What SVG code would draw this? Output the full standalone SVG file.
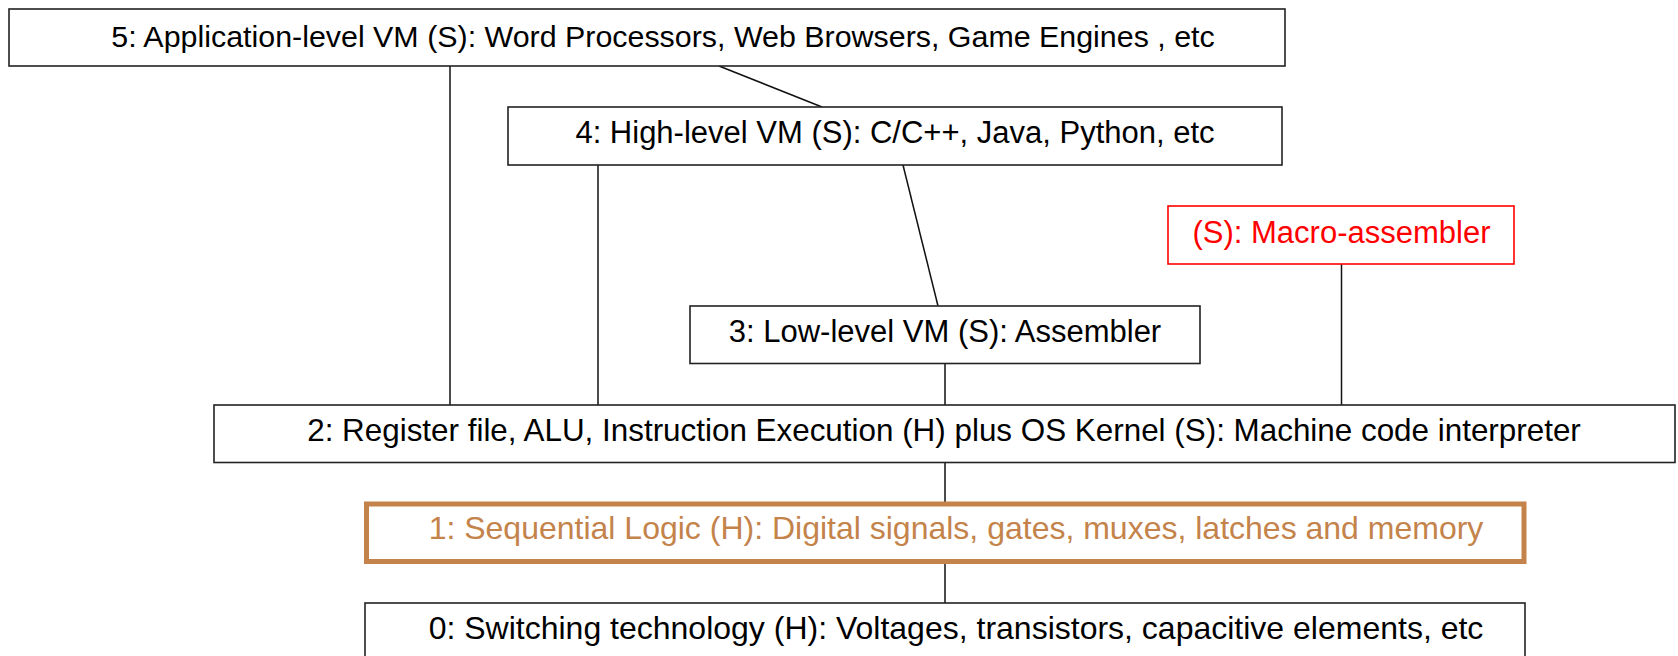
<svg xmlns="http://www.w3.org/2000/svg" width="1678" height="656" viewBox="0 0 1678 656">
<style>
.box{fill:#fff;stroke:#222;stroke-width:1.6}
.t{font-family:"Liberation Sans",Arial,sans-serif;font-size:31px;fill:#000;text-anchor:middle}
.red .box{stroke:#ff0000}
.red .t{fill:#ff0000}
.org .box{stroke:#c4834a;stroke-width:5}
.org .t{fill:#c4834a}
#connectors line{stroke:#111;stroke-width:1.5}
</style>
<rect width="1678" height="656" fill="#fff"/>
<g id="connectors">
<line x1="450" y1="66" x2="450" y2="405"/>
<line x1="719" y1="66" x2="822" y2="107"/>
<line x1="598" y1="165" x2="598" y2="405"/>
<line x1="903" y1="165" x2="938" y2="306"/>
<line x1="945" y1="363.5" x2="945" y2="405"/>
<line x1="1341.5" y1="264" x2="1341.5" y2="405"/>
<line x1="945" y1="462.5" x2="945" y2="502"/>
<line x1="945" y1="564" x2="945" y2="603"/>
</g>
<g id="n5"><rect class="box" x="9" y="9" width="1276" height="57"/><text class="t" x="663" y="47" style="font-size:30.4px">5: Application-level VM (S): Word Processors, Web Browsers, Game Engines , etc</text></g>
<g id="n4"><rect class="box" x="508" y="107" width="774" height="58"/><text class="t" x="895" y="143">4: High-level VM (S): C/C++, Java, Python, etc</text></g>
<g id="nmacro" class="red"><rect class="box" x="1168" y="206" width="346" height="58"/><text class="t" x="1341.5" y="243">(S): Macro-assembler</text></g>
<g id="n3"><rect class="box" x="690" y="306" width="510" height="57.5"/><text class="t" x="945" y="342">3: Low-level VM (S): Assembler</text></g>
<g id="n2"><rect class="box" x="214" y="405" width="1461" height="57.5"/><text class="t" x="944" y="441" style="font-size:31.4px">2: Register file, ALU, Instruction Execution (H) plus OS Kernel (S): Machine code interpreter</text></g>
<g id="n1" class="org"><rect class="box" x="366.5" y="504" width="1157.5" height="57.5"/><text class="t" x="956" y="539" style="font-size:32px">1: Sequential Logic (H): Digital signals, gates, muxes, latches and memory</text></g>
<g id="n0"><rect class="box" x="365" y="603" width="1160" height="70"/><text class="t" x="956" y="639" style="font-size:32px">0: Switching technology (H): Voltages, transistors, capacitive elements, etc</text></g>
</svg>
